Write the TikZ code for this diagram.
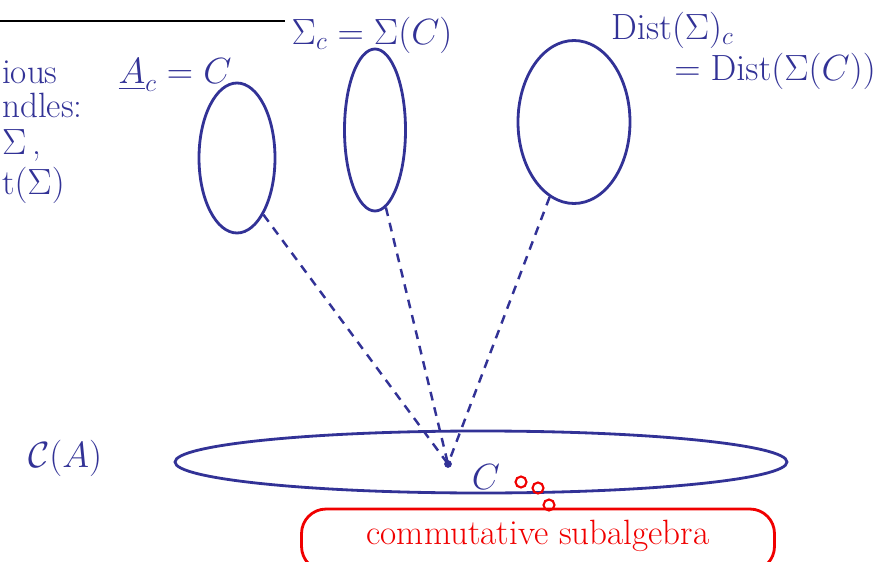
\documentclass[tikz,border=0pt]{standalone}
\usepackage{amsmath}
\usepackage{amssymb}
\usetikzlibrary{arrows.meta, calc, positioning, shapes.geometric}
\definecolor{penblue}{RGB}{50,50,150}
\definecolor{penred}{RGB}{240,0,0}
\begin{document}
\begin{tikzpicture}[
    blob/.style ={draw=penblue, ellipse, line width=1.6pt, inner sep=0pt},
    lbl/.style  ={text=penblue, font=\fontsize{20}{24}\selectfont, inner sep=1pt},
    link/.style ={penblue, line width=1.4pt, dash pattern=on 5pt off 4pt},
    tip/.style  ={draw=penred, line width=1.2pt, circle, minimum size=2.2mm, inner sep=0pt},
]
\path[use as bounding box, clip] (0,0) rectangle (17.46,11.22);
% heading rule (cut off)
\draw[line width=1.6pt] (0,10.8) -- (5.7,10.8);
% left margin notes (cut off)
\node[lbl, anchor=west] (n1) at (0,9.78) {ious};
\node[lbl, anchor=west] (n2) at (0,9.12) {ndles:};
\node[lbl, anchor=west] (n3) at (0,8.32) {$\Sigma$\,,};
\node[lbl, anchor=west] (n4) at (0,7.52) {t$(\Sigma)$};
% the three bundles over C
\node[blob, minimum width=15.2mm, minimum height=30mm] (ac)    at (4.74,8.06) {};
\node[blob, minimum width=12.2mm, minimum height=32.4mm] (sigc) at (7.50,8.62) {};
\node[blob, minimum width=22.4mm, minimum height=32.6mm] (distc) at (11.48,8.78) {};
\node[lbl] (acl)   at (3.5,9.72)   {$\underline{A}_c = C$};
\node[lbl] (sigl)  at (7.44,10.52) {$\Sigma_c = \Sigma(C)$};
\node[lbl] (distl) at (13.45,10.62) {$\mathrm{Dist}(\Sigma)_c$};
\node[lbl] (dist2) at (15.5,9.8) {$= \mathrm{Dist}(\Sigma(C))$};
% the base C(A)
\node[blob, minimum width=122.4mm, minimum height=12.4mm] (base) at (9.62,1.98) {};
\node[lbl] (basel) at (1.3,2.06) {$\mathcal{C}(A)$};
\fill[penblue] (8.96,1.94) circle (2.2pt) coordinate (pt);
\node[lbl] (cl) at (9.72,1.68) {$C$};
\draw[link] (ac.-65)    -- (pt);
\draw[link] (sigc.-82)  -- (pt);
\draw[link] (distc.-108) -- (pt);
% red remark
\node[tip] (t1) at (10.42,1.58) {};
\node[tip] (t2) at (10.76,1.46) {};
\node[tip] (t3) at (10.98,1.12) {};
\node[draw=penred, line width=1.6pt, rounded corners=14pt, minimum width=94.6mm,
      minimum height=12.4mm, text=penred, font=\fontsize{20}{24}\selectfont]
      (comm) at (10.76,0.42) {\raisebox{3mm}{commutative subalgebra}};
\end{tikzpicture}
\end{document}
